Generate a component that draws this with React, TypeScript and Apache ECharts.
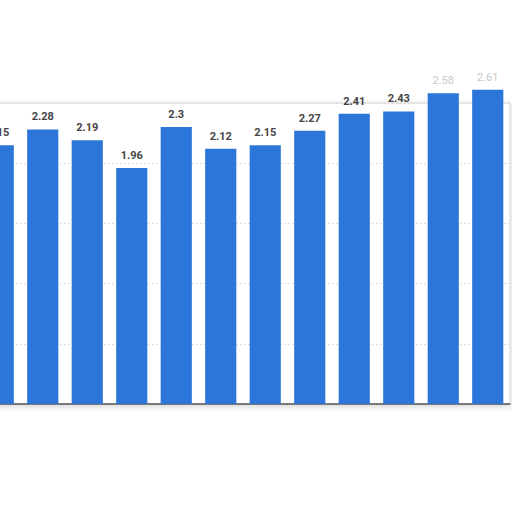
import { useEffect, useRef } from 'react'
import * as echarts from 'echarts'

const categories = ['1', '2', '3', '4', '5', '6', '7', '8', '9', '10', '11', '12']
const values = [2.15, 2.28, 2.19, 1.96, 2.3, 2.12, 2.15, 2.27, 2.41, 2.43, 2.58, 2.61]
// the two last labels are washed out in the picture
const fadedLabels = [false, false, false, false, false, false, false, false, false, false, true, true]

export default function App() {
  const chartRef = useRef<HTMLDivElement>(null)

  useEffect(() => {
    if (!chartRef.current) return
    const chart = echarts.init(chartRef.current, null, { renderer: 'svg' })

    chart.setOption({
      animation: false,
      backgroundColor: '#ffffff',
      grid: {
        show: true,
        left: 0,
        right: 2,
        top: 103,
        bottom: 108,
        backgroundColor: '#ffffff',
        borderColor: '#d6d6d6',
        borderWidth: 1,
        shadowColor: 'rgba(0,0,0,0.18)',
        shadowBlur: 6,
        shadowOffsetY: 2,
      },
      xAxis: {
        type: 'category',
        data: categories,
        axisTick: { show: false },
        axisLabel: { show: false },
        axisLine: { lineStyle: { color: '#555555', width: 1.5 } },
      },
      yAxis: {
        type: 'value',
        min: 0,
        max: 2.5,
        interval: 0.5,
        axisLabel: { show: false },
        axisLine: { show: false },
        axisTick: { show: false },
        splitLine: { lineStyle: { color: '#dddddd', type: [2, 2] } },
      },
      series: [
        {
          type: 'bar',
          clip: false,
          barCategoryGap: '30%',
          data: values.map((v, i) => ({
            value: v,
            label: fadedLabels[i] ? { color: '#c8c8c8', fontWeight: 'normal' } : undefined,
          })),
          itemStyle: { color: '#2c76d9' },
          label: {
            show: true,
            position: 'top',
            distance: 7,
            color: '#444444',
            fontSize: 11,
            fontWeight: 'bold',
            fontFamily: 'Roboto, sans-serif',
          },
        },
      ],
    })

    return () => {
      chart.dispose()
    }
  }, [])

  // the chart is cropped on the left in the picture, so the box starts off-screen
  return (
    <div
      ref={chartRef}
      style={{ position: 'fixed', left: '-24px', top: 0, width: '536px', height: '512px' }}
    />
  )
}
